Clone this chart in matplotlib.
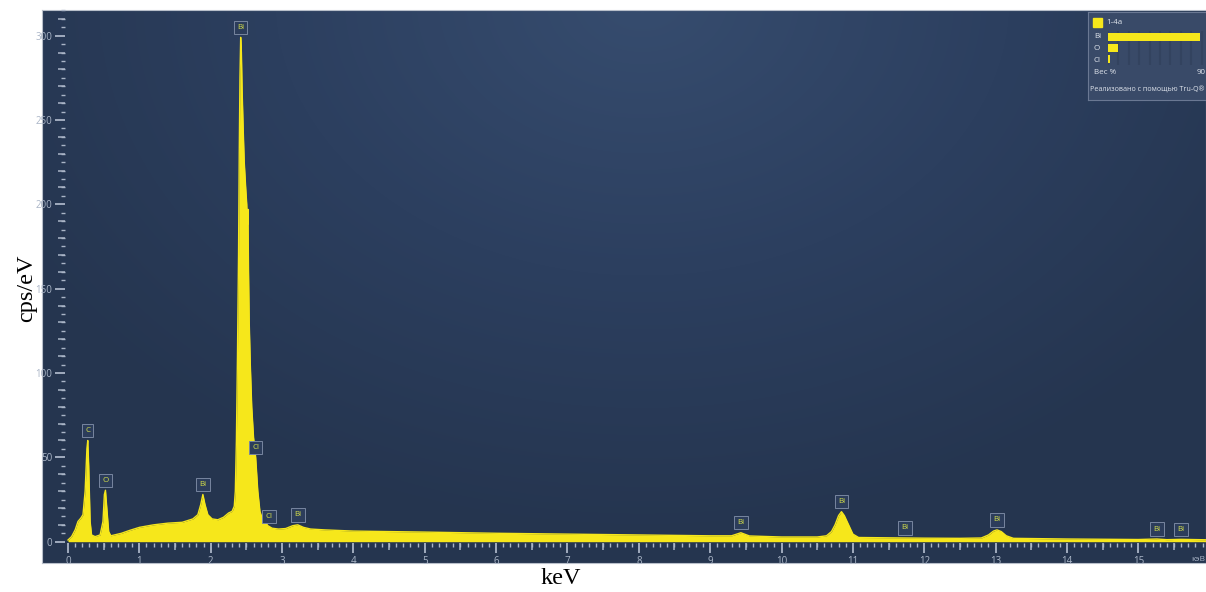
import numpy as np
import matplotlib.pyplot as plt
from matplotlib.colors import LinearSegmentedColormap
from matplotlib.patches import Rectangle
from matplotlib.ticker import MultipleLocator

# -------------------------------
# EDS spectrum
# -------------------------------
energy = [0.00, 0.05, 0.10, 0.14, 0.18, 0.21, 0.24, 0.265, 0.277, 0.29,
          0.31, 0.33, 0.38, 0.45, 0.49, 0.51, 0.525, 0.54, 0.57, 0.60,
          0.65, 0.75, 0.85, 1.00, 1.20, 1.40, 1.60, 1.75, 1.82, 1.86,
          1.89, 1.92, 1.96, 2.02, 2.10, 2.18, 2.25, 2.30, 2.33, 2.345,
          2.36, 2.375, 2.39, 2.40, 2.41, 2.42, 2.43, 2.44, 2.455, 2.47,
          2.49, 2.505, 2.515, 2.522, 2.53, 2.54, 2.555, 2.575, 2.60, 2.63,
          2.66, 2.69, 2.72, 2.76, 2.80, 2.86, 2.95, 3.05, 3.15, 3.22,
          3.30, 3.40, 3.60, 4.00, 5.00, 6.00, 7.00, 8.00, 9.00, 9.30,
          9.43, 9.55, 10.00, 10.50, 10.63, 10.70, 10.75, 10.80, 10.84, 10.88,
          10.94, 11.00, 11.08, 11.50, 12.00, 12.50, 12.80, 12.90, 12.97, 13.02,
          13.08, 13.15, 13.25, 14.00, 15.00, 15.26, 15.40, 15.60, 16.00]
cps = [1.0, 3.0, 7.0, 12.0, 14.0, 16.0, 30.0, 55.0, 60.0, 45.0,
       12.0, 4.0, 3.0, 4.0, 12.0, 28.0, 30.5, 22.0, 6.0, 3.5,
       4.0, 5.0, 6.5, 8.5, 10.0, 11.0, 11.5, 13.5, 16.0, 22.0,
       28.0, 22.0, 16.0, 13.5, 13.0, 14.5, 17.0, 18.0, 21.0, 30.0,
       60.0, 110.0, 170.0, 230.0, 275.0, 299.0, 290.0, 268.0, 245.0, 225.0,
       210.0, 200.0, 188.0, 197.0, 160.0, 130.0, 105.0, 80.0, 62.0, 50.0,
       30.0, 18.0, 14.0, 12.0, 9.5, 8.0, 7.5, 7.8, 9.5, 10.0,
       8.5, 7.5, 7.0, 6.3, 5.7, 5.0, 4.5, 4.0, 3.5, 3.5,
       5.3, 3.4, 2.8, 2.8, 3.5, 6.0, 10.0, 15.5, 17.8, 15.5,
       10.0, 4.5, 2.5, 2.3, 2.1, 2.0, 2.2, 4.0, 6.3, 7.0,
       6.0, 3.5, 2.0, 1.6, 1.3, 1.6, 1.2, 1.4, 1.1]

# element line markers
line_energy = [0.277, 0.525, 1.89, 2.42, 2.63, 2.82, 3.22, 9.43, 10.84, 11.73, 13.02, 15.26, 15.60]
line_element = ["C", "O", "Bi", "Bi", "Cl", "Cl", "Bi", "Bi", "Bi", "Bi", "Bi", "Bi", "Bi"]

# quantification inset
sample_name = "1-4a"
quant_elements = ["Bi", "O", "Cl"]
quant_weight = [88.0, 9.6, 2.4]

x_ticks = list(range(16))
y_ticks = [0, 50, 100, 150, 200, 250, 300]

# -------------------------------
# Style
# -------------------------------
yellow = "#f6e71b"
tick_col = "#aab5c7"
ui_font = "Open Sans"

W, H = 1206, 592
fig = plt.figure(figsize=(W / 100, H / 100), dpi=100)
fig.patch.set_facecolor("white")


def px_rect(x0, y0, x1, y1):
    return [x0 / W, 1 - y1 / H, (x1 - x0) / W, (y1 - y0) / H]


# background panel with soft radial glow
bg = fig.add_axes(px_rect(42, 10, 1206, 563))
yy, xx = np.mgrid[0:553, 0:1164]
r = np.hypot((xx - 600) / 720, (yy + 10) / 540)
panel_cmap = LinearSegmentedColormap.from_list("panel", ["#364c6e", "#2c3f5f", "#25354f"])
bg.imshow(np.clip(r, 0, 1), cmap=panel_cmap, aspect="auto", interpolation="bilinear")
bg.set_xticks([])
bg.set_yticks([])
for s in bg.spines.values():
    s.set_color("#b8bfca")
    s.set_linewidth(0.8)

# -------------------------------
# Spectrum
# -------------------------------
ax = fig.add_axes(px_rect(65, 10, 1206, 543))
ax.set_facecolor("none")
ax.fill_between(energy, cps, 0, color=yellow, lw=0)
ax.plot(energy, cps, color=yellow, lw=1.0)
ax.set_xlim(-0.042, 15.949)
ax.set_ylim(-0.77, 315.2)
for s in ax.spines.values():
    s.set_visible(False)

ax.set_xticks(x_ticks)
ax.set_yticks(y_ticks)
ax.xaxis.set_minor_locator(MultipleLocator(0.1))
ax.yaxis.set_minor_locator(MultipleLocator(5))
ax.tick_params(which="major", length=7, width=1.3, color=tick_col,
               labelcolor=tick_col, labelsize=7, pad=2)
ax.tick_params(which="minor", length=3, width=1.0, color=tick_col)
for lab in ax.get_xticklabels() + ax.get_yticklabels():
    lab.set_family(ui_font)

# medium ticks at half keV and every 10 cps
sx = ax.secondary_xaxis("bottom")
sx.set_xticks(np.arange(0.5, 16, 1))
sx.tick_params(length=5, width=1.1, color=tick_col, labelbottom=False)
sx.spines["bottom"].set_visible(False)
sy = ax.secondary_yaxis("left")
sy.set_yticks([v for v in range(10, 315, 10) if v % 50])
sy.tick_params(length=5, width=1.1, color=tick_col, labelleft=False)
sy.spines["left"].set_visible(False)

ax.text(15.945, -0.025, "кэВ", transform=ax.get_xaxis_transform(), ha="right", va="top",
        fontsize=6, color=tick_col, family=ui_font)

# element labels
for e, el in zip(line_energy, line_element):
    y = np.interp(e, energy, cps)
    ax.annotate(el, (e, y), xytext=(0, 10), textcoords="offset pixels",
                ha="center", va="center", fontsize=5.8, color="#d4df4a", family=ui_font,
                bbox=dict(boxstyle="square,pad=0.4", fc="#2c3d5b", ec="#7886a0", lw=0.7))

# -------------------------------
# Quantification box
# -------------------------------
lg = fig.add_axes(px_rect(1088, 12, 1212, 100))
lg.set_xlim(1088, 1212)
lg.set_ylim(100, 12)
lg.set_facecolor("#394a68")
lg.set_xticks([])
lg.set_yticks([])
for s in lg.spines.values():
    s.set_color("#6a7893")
    s.set_linewidth(0.8)
lg.add_patch(Rectangle((1093, 18), 9, 9, color=yellow))
txt = dict(fontsize=5.8, color="#dfe4ec", family=ui_font, va="center")
lg.text(1106, 22.5, sample_name, **txt)
for i, el in enumerate(quant_elements):
    lg.text(1094, 36 + 12 * i, el, **txt)
lg.text(1094, 73, "Вес %", **txt)
lg.text(1090, 90, "Реализовано с помощью Tru-Q®", fontsize=5.1, color="#dfe4ec",
        family=ui_font, va="center")

wax = fig.add_axes(px_rect(1108, 31, 1212, 65))
wax.set_facecolor("none")
wax.barh(range(len(quant_elements)), quant_weight, height=0.7, color=yellow, zorder=2)
wax.set_xlim(0, 100)
wax.set_ylim(len(quant_elements) - 0.5, -0.5)
wax.set_xticks(range(0, 101, 10))
wax.set_yticks([])
wax.grid(axis="x", color="#33435f", lw=1.5, zorder=0)
wax.tick_params(length=0, labelbottom=False)
for s in wax.spines.values():
    s.set_visible(False)
wax.text(90, -0.22, "90", transform=wax.get_xaxis_transform(), ha="center", **txt)

# -------------------------------
# Axis titles
# -------------------------------
fig.text(27 / W, 1 - 288 / H, "cps/eV", rotation=90, ha="center", va="center",
         fontsize=17.5, family="Liberation Serif", color="black")
fig.text(561 / W, 1 - 578 / H, "keV", ha="center", va="center",
         fontsize=17.5, family="Liberation Serif", color="black")

fig.savefig("out.png", dpi=100, facecolor="white")
